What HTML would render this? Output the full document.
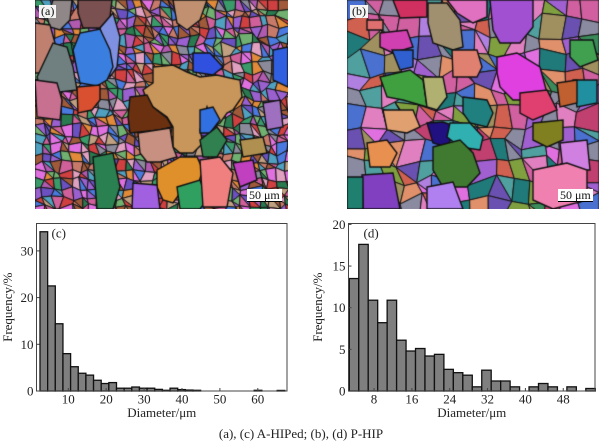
<!DOCTYPE html>
<html><head><meta charset="utf-8">
<style>
html,body{margin:0;padding:0;background:#fff;}
#wrap{position:relative;width:600px;height:445px;overflow:hidden;background:#fff;font-family:"Liberation Serif",serif;}
canvas{position:absolute;top:0;}
.lbl{position:absolute;background:#f4f4f4;color:#111;font-size:12px;line-height:13px;padding:0 2px;font-family:"Liberation Serif",serif;}
.sb{position:absolute;background:#fff;color:#111;font-size:12px;line-height:12px;padding:0 2px;border-bottom:1.5px solid #000;font-family:"Liberation Serif",serif;}
svg{position:absolute;left:0;top:0;font-family:"Liberation Serif",serif;font-size:13px;}
svg text{font-family:"Liberation Serif",serif;}
</style></head><body>
<div id="wrap">
<canvas id="ca" width="253" height="209" style="left:35px;"></canvas>
<canvas id="cb" width="252" height="209" style="left:347px;"></canvas>
<div class="lbl" style="left:39px;top:5px;">(a)</div>
<div class="lbl" style="left:350px;top:5px;">(b)</div>
<div class="sb" style="left:247px;top:189px;">50 μm</div>
<div class="sb" style="left:558px;top:189px;">50 μm</div>
<svg width="600" height="445" viewBox="0 0 600 445" fill="#222">
<g id="gc"></g>
<g id="gd"></g>
<text x="301" y="438" text-anchor="middle" font-size="13">(a), (c) A-HIPed; (b), (d) P-HIP</text>
</svg>
</div>
<script>
function rng(s){return function(){s|=0;s=s+0x6D2B79F5|0;var t=Math.imul(s^s>>>15,1|s);t=t+Math.imul(t^t>>>7,61|t)^t;return((t^t>>>14)>>>0)/4294967296;}}
function mosaic(ctx,w,h,cs,pal,seed,split){
  var r=rng(seed),nx=Math.ceil(w/cs),ny=Math.ceil(h/cs),P=[];
  for(var j=0;j<=ny;j++){P[j]=[];for(var i=0;i<=nx;i++){
    var x=i*cs+((i>0&&i<nx)?(r()-0.5)*cs*0.75:0);
    var y=j*cs+((j>0&&j<ny)?(r()-0.5)*cs*0.75:0);P[j][i]=[x,y];}}
  ctx.lineWidth=1;ctx.strokeStyle='#151515';
  for(var j=0;j<ny;j++)for(var i=0;i<nx;i++){
    var a=P[j][i],b=P[j][i+1],c=P[j+1][i+1],d=P[j+1][i];
    if(r()<split){
      ctx.beginPath();ctx.moveTo(a[0],a[1]);ctx.lineTo(b[0],b[1]);ctx.lineTo(c[0],c[1]);ctx.closePath();
      ctx.fillStyle=pal[Math.floor(r()*pal.length)];ctx.fill();ctx.stroke();
      ctx.beginPath();ctx.moveTo(a[0],a[1]);ctx.lineTo(c[0],c[1]);ctx.lineTo(d[0],d[1]);ctx.closePath();
      ctx.fillStyle=pal[Math.floor(r()*pal.length)];ctx.fill();ctx.stroke();
    }else{
      ctx.beginPath();ctx.moveTo(a[0],a[1]);ctx.lineTo(b[0],b[1]);ctx.lineTo(c[0],c[1]);ctx.lineTo(d[0],d[1]);ctx.closePath();
      ctx.fillStyle=pal[Math.floor(r()*pal.length)];ctx.fill();ctx.stroke();
    }
  }
}
function grains(ctx,ox,list){
  ctx.lineWidth=1.4;ctx.strokeStyle='#111';
  list.forEach(function(g){
    var p=g[1];ctx.beginPath();ctx.moveTo(p[0]-ox,p[1]);
    for(var k=2;k<p.length;k+=2)ctx.lineTo(p[k]-ox,p[k+1]);
    ctx.closePath();ctx.fillStyle=g[0];ctx.fill();ctx.stroke();
  });
}
var palA=['#d0609a','#9a60d0','#4a7ae0','#3a9a6a','#e08a3a','#8a8a9a','#c87a6a','#e070e0','#50a0c0','#a05a3a','#6a50c0','#d04040','#70b070','#c0a080','#e0a0c0','#2a7a50','#b05ab0'];
var palB=['#d060a0','#a060d0','#e080c0','#4a70d0','#3a8a5a','#e0906a','#8a8aa0','#c04070','#e070e0','#50a0a0','#a09060','#6a50b0','#d06050','#80a040','#b080e0','#207a7a'];
var ca=document.getElementById('ca').getContext('2d');
mosaic(ca,253,209,9,palA,7,0.45);
grains(ca,35,[
['#908888',[53,0,72,0,70,20,60,30,50,27,47,17]],
['#7a5050',[78,0,112,0,110,17,100,28,83,28,78,13]],
['#c09070',[173,0,207,0,200,20,187,30,177,23]],
['#c08070',[35,23,50,25,55,43,40,73,35,73]],
['#708080',[37,77,53,43,67,47,73,67,77,90,60,92,40,87]],
['#8090e0',[100,28,113,13,120,37,117,67,110,77]],
['#3a7ee0',[73,50,80,33,100,29,110,50,113,67,107,80,97,86,80,83,77,70]],
['#c87090',[35,80,57,83,62,100,60,120,37,117]],
['#d85030',[77,87,100,85,100,100,92,110,78,113]],
['#3050e0',[193,53,210,53,223,67,213,75,193,72]],
['#3060e0',[273,50,288,47,288,87,273,80]],
['#c8955a',[153,67,173,65,187,72,200,77,217,75,230,78,240,80,242,97,233,110,227,113,220,123,213,127,207,107,200,130,203,143,193,153,180,153,173,147,173,127,167,117,153,107,147,100,143,90,153,83]],
['#6b3010',[130,97,147,95,153,107,167,118,172,127,160,130,140,132,130,133,128,117]],
['#c89080',[138,133,170,128,173,147,177,157,160,162,147,162,140,153]],
['#3070e0',[200,110,213,107,220,120,210,133,200,133]],
['#a070c0',[263,103,280,100,283,127,267,130]],
['#308050',[200,140,217,127,227,140,217,157,203,157]],
['#b09050',[240,140,263,137,267,153,243,157]],
['#2a8050',[93,157,113,153,120,187,113,209,97,209]],
['#e0902a',[157,170,180,157,197,157,203,170,197,187,180,193,173,203,163,200,157,187]],
['#a060e0',[133,183,157,185,160,209,132,209]],
['#30a060',[177,187,200,180,207,200,200,209,180,209]],
['#f08080',[200,160,220,157,233,173,227,207,203,207]],
['#c040c0',[233,163,253,160,257,180,240,187]]
]);
var cb=document.getElementById('cb').getContext('2d');
mosaic(cb,252,209,18,palB,11,0.2);
grains(cb,347,[
['#d03060',[393,0,427,0,427,17,400,18]],
['#e070c0',[447,0,487,0,487,17,473,23,457,13]],
['#a050d0',[490,0,533,0,533,27,520,43,500,43,493,30]],
['#a09070',[428,3,447,3,460,20,463,47,453,50,433,43,428,23]],
['#e07070',[367,20,383,20,383,30,367,30]],
['#d040b0',[380,33,407,30,413,47,393,53,380,47]],
['#3060d0',[392,50,413,50,413,67,400,70]],
['#e08070',[452,50,477,50,482,67,477,77,453,77]],
['#40a050',[570,40,593,40,598,60,580,67,570,57]],
['#e040e0',[497,57,517,53,540,67,547,93,530,100,513,100,500,87,497,73]],
['#40a040',[380,77,410,70,423,80,427,107,403,100,387,97]],
['#b0b070',[423,77,443,77,447,97,437,110,427,107]],
['#2090a0',[573,80,597,80,597,103,577,107]],
['#c06030',[557,83,577,80,577,103,560,107]],
['#e04070',[520,93,547,90,557,110,533,120,520,113]],
['#208080',[463,97,487,100,493,113,487,127,470,123,463,113]],
['#e0a070',[383,110,413,110,420,127,407,133,387,130]],
['#201080',[427,123,443,122,457,127,447,147,433,143]],
['#30b0b0',[450,123,470,123,483,137,480,150,460,147,447,137]],
['#808020',[533,123,563,120,563,140,547,147,533,140]],
['#e89050',[367,143,387,140,397,153,390,167,370,167]],
['#d080e0',[560,143,587,140,590,170,563,170]],
['#407a30',[433,147,460,140,473,153,480,173,467,187,443,187,433,170]],
['#f080b0',[533,170,567,163,587,170,587,200,553,209,533,200]],
['#8040c0',[362,175,393,173,400,209,363,209]],
['#208070',[347,177,363,177,363,209,347,209]],
['#b080f0',[427,187,453,182,463,209,427,209]]
]);
var NS='http://www.w3.org/2000/svg';
function el(p,t,a,txt){var e=document.createElementNS(NS,t);for(var k in a)e.setAttribute(k,a[k]);if(txt!==undefined)e.textContent=txt;p.appendChild(e);return e;}
function chart(g,o){
  o.h.forEach(function(v,i){
    if(v<=0)return;
    var x=o.bl+i*o.bw,y=o.y0-v*o.ys;
    el(g,'rect',{x:x,y:y,width:o.bw,height:o.y0-y,fill:'#7f7f7f',stroke:'#111','stroke-width':1.3});
  });
  el(g,'rect',{x:o.fl,y:o.ft,width:o.fr-o.fl,height:o.fb-o.ft,fill:'none',stroke:'#444','stroke-width':1});
  o.yt.forEach(function(v){var y=o.y0-v*o.ys;
    el(g,'line',{x1:o.fl,y1:y,x2:o.fl+3,y2:y,stroke:'#444','stroke-width':1});
    el(g,'text',{x:o.fl-3,y:y+4.5,'text-anchor':'end'},String(v));});
  o.xt.forEach(function(v){var x=o.x0+v*o.xs;
    el(g,'line',{x1:x,y1:o.fb,x2:x,y2:o.fb-3,stroke:'#444','stroke-width':1});
    el(g,'text',{x:x,y:o.fb+12.5,'text-anchor':'middle'},String(v));});
  el(g,'text',{x:(o.fl+o.fr)/2,y:417,'text-anchor':'middle'},'Diameter/μm');
  el(g,'text',{x:o.yl,y:(o.ft+o.fb)/2,'text-anchor':'middle',transform:'rotate(-90 '+o.yl+' '+((o.ft+o.fb)/2)+')'},'Frequency/%');
  el(g,'text',{x:o.fl+15,y:o.ft+14},o.lab);
}
var hc=[34.1,22.5,14.4,8.0,5.2,3.8,3.4,2.3,1.6,1.8,0.6,0.6,0.85,0.6,0.6,0.35,0.15,0.6,0.3,0.2,0.15,0,0,0,0,0,0,0,0.15,0,0,0.12];
chart(document.getElementById('gc'),{h:hc,bl:40,bw:7.65,y0:391,ys:4.67,fl:36.5,fr:287,ft:223.5,fb:391,
  yt:[0,10,20,30],xt:[10,20,30,40,50,60],x0:30.4,xs:3.79,yl:12,lab:'(c)'});
var hd=[13.5,17.6,10.9,8.2,10.9,6.1,4.8,5.1,4.2,4.4,2.6,2.2,1.9,0.5,2.5,1.2,1.2,0.5,0,0.5,0.9,0.5,0,0.5,0,0.3];
chart(document.getElementById('gd'),{h:hd,bl:349.3,bw:9.46,y0:391,ys:8.33,fl:348.5,fr:595,ft:223.5,fb:391,
  yt:[0,5,10,15,20],xt:[8,16,24,32,40,48],x0:336.2,xs:4.73,yl:322,lab:'(d)'});
</script>
</body></html>
